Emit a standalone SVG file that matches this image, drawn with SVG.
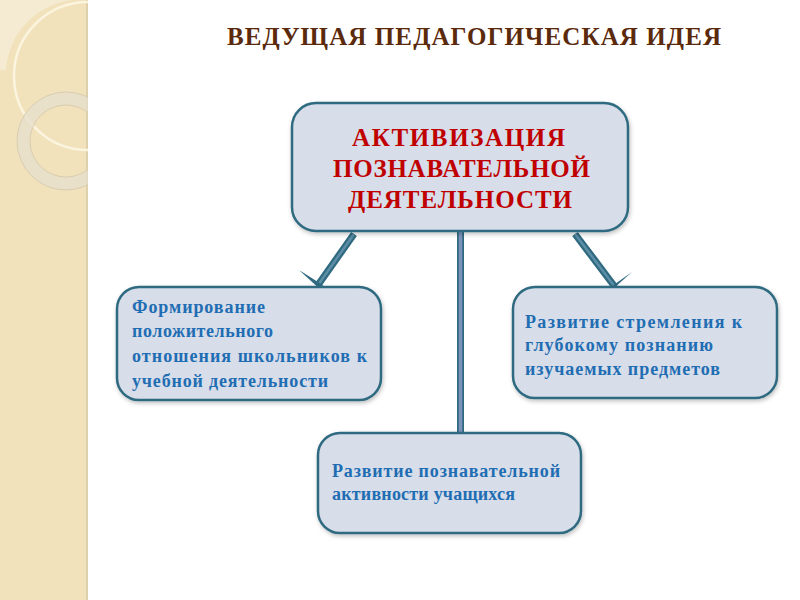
<svg xmlns="http://www.w3.org/2000/svg" width="800" height="600" viewBox="0 0 800 600">
<defs>
<style>
.box{fill:#d7dde9;stroke:#2f6a80;stroke-width:2.5}
.main{font-family:"Liberation Serif","DejaVu Serif",serif;font-weight:bold;font-size:25px;fill:#c00000}
.lbl{font-family:"Liberation Serif","DejaVu Serif",serif;font-weight:bold;font-size:18px;fill:#1f6db3}
.title{font-family:"Liberation Serif","DejaVu Serif",serif;font-weight:bold;font-size:25px;fill:#5b2a0c}
.conn{stroke:#2f6a80;stroke-width:7;fill:none}
.connin{stroke:#5c8ea6;stroke-width:2.5;fill:none}
.head{fill:#2f6a80}
</style>
<filter id="sh" x="-10%" y="-10%" width="120%" height="130%">
<feDropShadow dx="1" dy="2" stdDeviation="2" flood-color="#000" flood-opacity="0.25"/>
</filter>
<clipPath id="clipL"><rect x="0" y="0" width="88" height="600"/></clipPath>
</defs>
<rect width="800" height="600" fill="#ffffff"/>
<g id="sidebar">
<rect x="0" y="0" width="88" height="600" fill="#f1e2bc"/>
<rect x="86" y="0" width="2" height="600" fill="#ddd0ac"/>
<path d="M0,0 H72 A75,75 0 0 0 6,70 H0 Z" fill="#f6eed8" opacity="0.8"/>
<g clip-path="url(#clipL)">
<circle cx="88" cy="76" r="74" fill="none" stroke="#fbf4df" stroke-width="2.5"/>
<circle cx="66" cy="141" r="42.5" fill="none" stroke="#e6dfcd" stroke-width="12" opacity="0.75"/>
<circle cx="66" cy="141" r="49" fill="none" stroke="#d8cdb2" stroke-width="1"/>
<circle cx="66" cy="141" r="36" fill="none" stroke="#d8cdb2" stroke-width="1"/>
</g>
</g>
<g id="title">
<text class="title" x="227" y="45" textLength="494" lengthAdjust="spacing">ВЕДУЩАЯ ПЕДАГОГИЧЕСКАЯ ИДЕЯ</text>
</g>
<g id="connectors">
<line class="conn" x1="354" y1="234" x2="318" y2="285"/>
<line class="connin" x1="354" y1="234" x2="318" y2="285"/>
<polygon class="head" points="299,270 318,282 340,298 317,286.5"/>
<line class="conn" x1="575" y1="234" x2="615" y2="287"/>
<line class="connin" x1="575" y1="234" x2="615" y2="287"/>
<polygon class="head" points="632,272 615,284 592,302 614,288"/>
<line x1="460.5" y1="232" x2="460.5" y2="433" stroke="#2f6a80" stroke-width="7"/>
<line x1="460.5" y1="232" x2="460.5" y2="433" stroke="#7c93bb" stroke-width="3.5"/>
</g>
<g id="main">
<rect class="box" x="292" y="103" width="336" height="128" rx="24" filter="url(#sh)"/>
<text class="main" x="352" y="146" textLength="213" lengthAdjust="spacing">АКТИВИЗАЦИЯ</text>
<text class="main" x="333" y="177" textLength="257" lengthAdjust="spacing">ПОЗНАВАТЕЛЬНОЙ</text>
<text class="main" x="348" y="208" textLength="224" lengthAdjust="spacing">ДЕЯТЕЛЬНОСТИ</text>
</g>
<g id="left">
<rect class="box" x="117" y="287" width="264" height="113" rx="22" filter="url(#sh)"/>
<text class="lbl" x="132" y="313" textLength="133" lengthAdjust="spacing">Формирование</text>
<text class="lbl" x="132" y="337" textLength="141" lengthAdjust="spacing">положительного</text>
<text class="lbl" x="132" y="362" textLength="235" lengthAdjust="spacing">отношения школьников к</text>
<text class="lbl" x="132" y="387" textLength="196" lengthAdjust="spacing">учебной деятельности</text>
</g>
<g id="right">
<rect class="box" x="513" y="287" width="264" height="111" rx="22" filter="url(#sh)"/>
<text class="lbl" x="525" y="328" textLength="217" lengthAdjust="spacing">Развитие  стремления к</text>
<text class="lbl" x="525" y="351" textLength="188" lengthAdjust="spacing">глубокому познанию</text>
<text class="lbl" x="525" y="375" textLength="195" lengthAdjust="spacing">изучаемых предметов</text>
</g>
<g id="bottom">
<rect class="box" x="318" y="433" width="263" height="100" rx="22" filter="url(#sh)"/>
<text class="lbl" x="332" y="477" textLength="228" lengthAdjust="spacing">Развитие познавательной</text>
<text class="lbl" x="332" y="500" textLength="183" lengthAdjust="spacing">активности учащихся</text>
</g>
</svg>
